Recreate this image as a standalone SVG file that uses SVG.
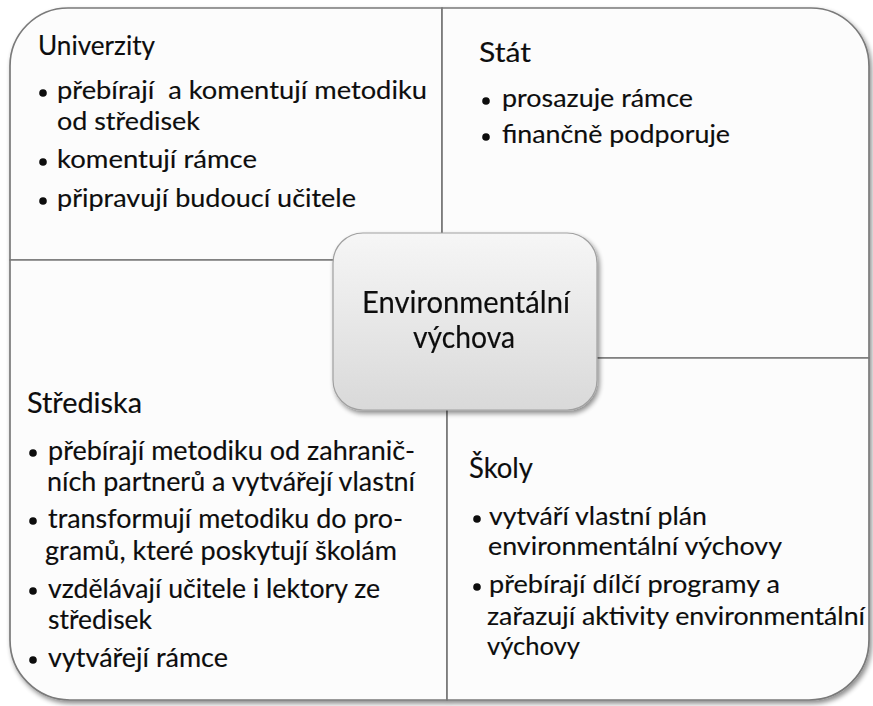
<svg xmlns="http://www.w3.org/2000/svg" width="873" height="706" viewBox="0 0 873 706">
  <defs>
    <linearGradient id="hubFill" x1="0" y1="0" x2="0" y2="1">
      <stop offset="0" stop-color="#f6f6f6"/>
      <stop offset="1" stop-color="#d9d9d9"/>
    </linearGradient>
    <filter id="shadow" x="-10%" y="-10%" width="120%" height="125%">
      <feGaussianBlur in="SourceAlpha" stdDeviation="2.5"/>
      <feOffset dx="2" dy="3" result="b"/>
      <feComponentTransfer><feFuncA type="linear" slope="0.45"/></feComponentTransfer>
      <feMerge><feMergeNode/><feMergeNode in="SourceGraphic"/></feMerge>
    </filter>
    <style>
      .quad { fill: #fcfcfc; stroke: #7a7a7a; stroke-width: 1.7; }
      .hub { fill: url(#hubFill); stroke: #a0a0a0; stroke-width: 1.2; }
      text { font-family: Lato, "Open Sans", "DejaVu Sans", sans-serif; fill: #0d0d0d; stroke: #0d0d0d; stroke-width: 0.15; }
      .h { font-size: 26px; }
      .t { font-size: 25.5px; }
      .hb { font-size: 28px; }
      .tb { font-size: 27.5px; }
      .c { font-size: 31px; text-anchor: middle; }
      .dot { fill: #0d0d0d; }
    </style>
  </defs>

  <rect width="873" height="706" fill="#ffffff"/>

  <!-- quadrants -->
  <g id="quadrants" filter="url(#shadow)">
    <path id="q-univerzity" class="quad" d="M10,66 A58,58 0 0 1 68,8 L442,8 L442,260 L10,260 Z"/>
    <path id="q-stat" class="quad" d="M442,8 L811,8 A58,58 0 0 1 869,66 L869,358 L442,358 Z"/>
    <path id="q-strediska" class="quad" d="M10,260 L447,260 L447,700 L70,700 A60,60 0 0 1 10,640 Z"/>
    <path id="q-skoly" class="quad" d="M447,358 L869,358 L869,640 A60,60 0 0 1 809,700 L447,700 Z"/>
  </g>

  <g id="univerzity">
    <text class="h" x="38" y="55" textLength="117" lengthAdjust="spacingAndGlyphs">Univerzity</text>
    <circle class="dot" cx="43" cy="93" r="3.8"/>
    <text class="t" x="57" y="99" style="white-space:pre" textLength="370" lengthAdjust="spacingAndGlyphs">přebírají  a komentují metodiku</text>
    <text class="t" x="57" y="130" textLength="143" lengthAdjust="spacingAndGlyphs">od středisek</text>
    <circle class="dot" cx="43" cy="162" r="3.8"/>
    <text class="t" x="57" y="168" textLength="200" lengthAdjust="spacingAndGlyphs">komentují rámce</text>
    <circle class="dot" cx="43" cy="201" r="3.8"/>
    <text class="t" x="57" y="207" textLength="299" lengthAdjust="spacingAndGlyphs">připravují budoucí učitele</text>
  </g>

  <g id="stat">
    <text class="h" x="479" y="62" textLength="52" lengthAdjust="spacingAndGlyphs">Stát</text>
    <circle class="dot" cx="486" cy="101" r="3.8"/>
    <text class="t" x="502" y="107" textLength="191" lengthAdjust="spacingAndGlyphs">prosazuje rámce</text>
    <circle class="dot" cx="486" cy="137" r="3.8"/>
    <text class="t" x="502" y="143" textLength="228" lengthAdjust="spacingAndGlyphs">finančně podporuje</text>
  </g>

  <g id="strediska">
    <text class="hb" x="27" y="413" textLength="115" lengthAdjust="spacingAndGlyphs">Střediska</text>
    <circle class="dot" cx="33" cy="453" r="3.8"/>
    <text class="tb" x="48" y="460" textLength="367" lengthAdjust="spacingAndGlyphs">přebírají metodiku od zahranič-</text>
    <text class="tb" x="47" y="491" textLength="368" lengthAdjust="spacingAndGlyphs">ních partnerů a vytvářejí vlastní</text>
    <circle class="dot" cx="33" cy="521" r="3.8"/>
    <text class="tb" x="48" y="528" textLength="355" lengthAdjust="spacingAndGlyphs">transformují metodiku do pro-</text>
    <text class="tb" x="45" y="560" textLength="352" lengthAdjust="spacingAndGlyphs">gramů, které poskytují školám</text>
    <circle class="dot" cx="33" cy="591" r="3.8"/>
    <text class="tb" x="48" y="598" textLength="332" lengthAdjust="spacingAndGlyphs">vzdělávají učitele i lektory ze</text>
    <text class="tb" x="48" y="629" textLength="104" lengthAdjust="spacingAndGlyphs">středisek</text>
    <circle class="dot" cx="33" cy="660" r="3.8"/>
    <text class="tb" x="48" y="667" textLength="180" lengthAdjust="spacingAndGlyphs">vytvářejí rámce</text>
  </g>

  <g id="skoly">
    <text class="hb" x="469" y="478" textLength="64" lengthAdjust="spacingAndGlyphs">Školy</text>
    <circle class="dot" cx="477" cy="519" r="3.8"/>
    <text class="t" x="489" y="525" textLength="218" lengthAdjust="spacingAndGlyphs">vytváří vlastní plán</text>
    <text class="t" x="488" y="555" textLength="294" lengthAdjust="spacingAndGlyphs">environmentální výchovy</text>
    <circle class="dot" cx="477" cy="587" r="3.8"/>
    <text class="t" x="489" y="593" textLength="291" lengthAdjust="spacingAndGlyphs">přebírají dílčí programy a</text>
    <text class="t" x="487" y="625" textLength="378" lengthAdjust="spacingAndGlyphs">zařazují aktivity environmentální</text>
    <text class="t" x="487" y="655" textLength="93" lengthAdjust="spacingAndGlyphs">výchovy</text>
  </g>

  <g id="environmentalni-vychova" filter="url(#shadow)">
    <rect class="hub" x="333" y="233" width="264" height="177" rx="30" ry="30"/>
    <text class="c" x="466" y="313" textLength="208" lengthAdjust="spacingAndGlyphs">Environmentální</text>
    <text class="c" x="464" y="348" textLength="102" lengthAdjust="spacingAndGlyphs">výchova</text>
  </g>

  <g id="connectors"/>
</svg>
